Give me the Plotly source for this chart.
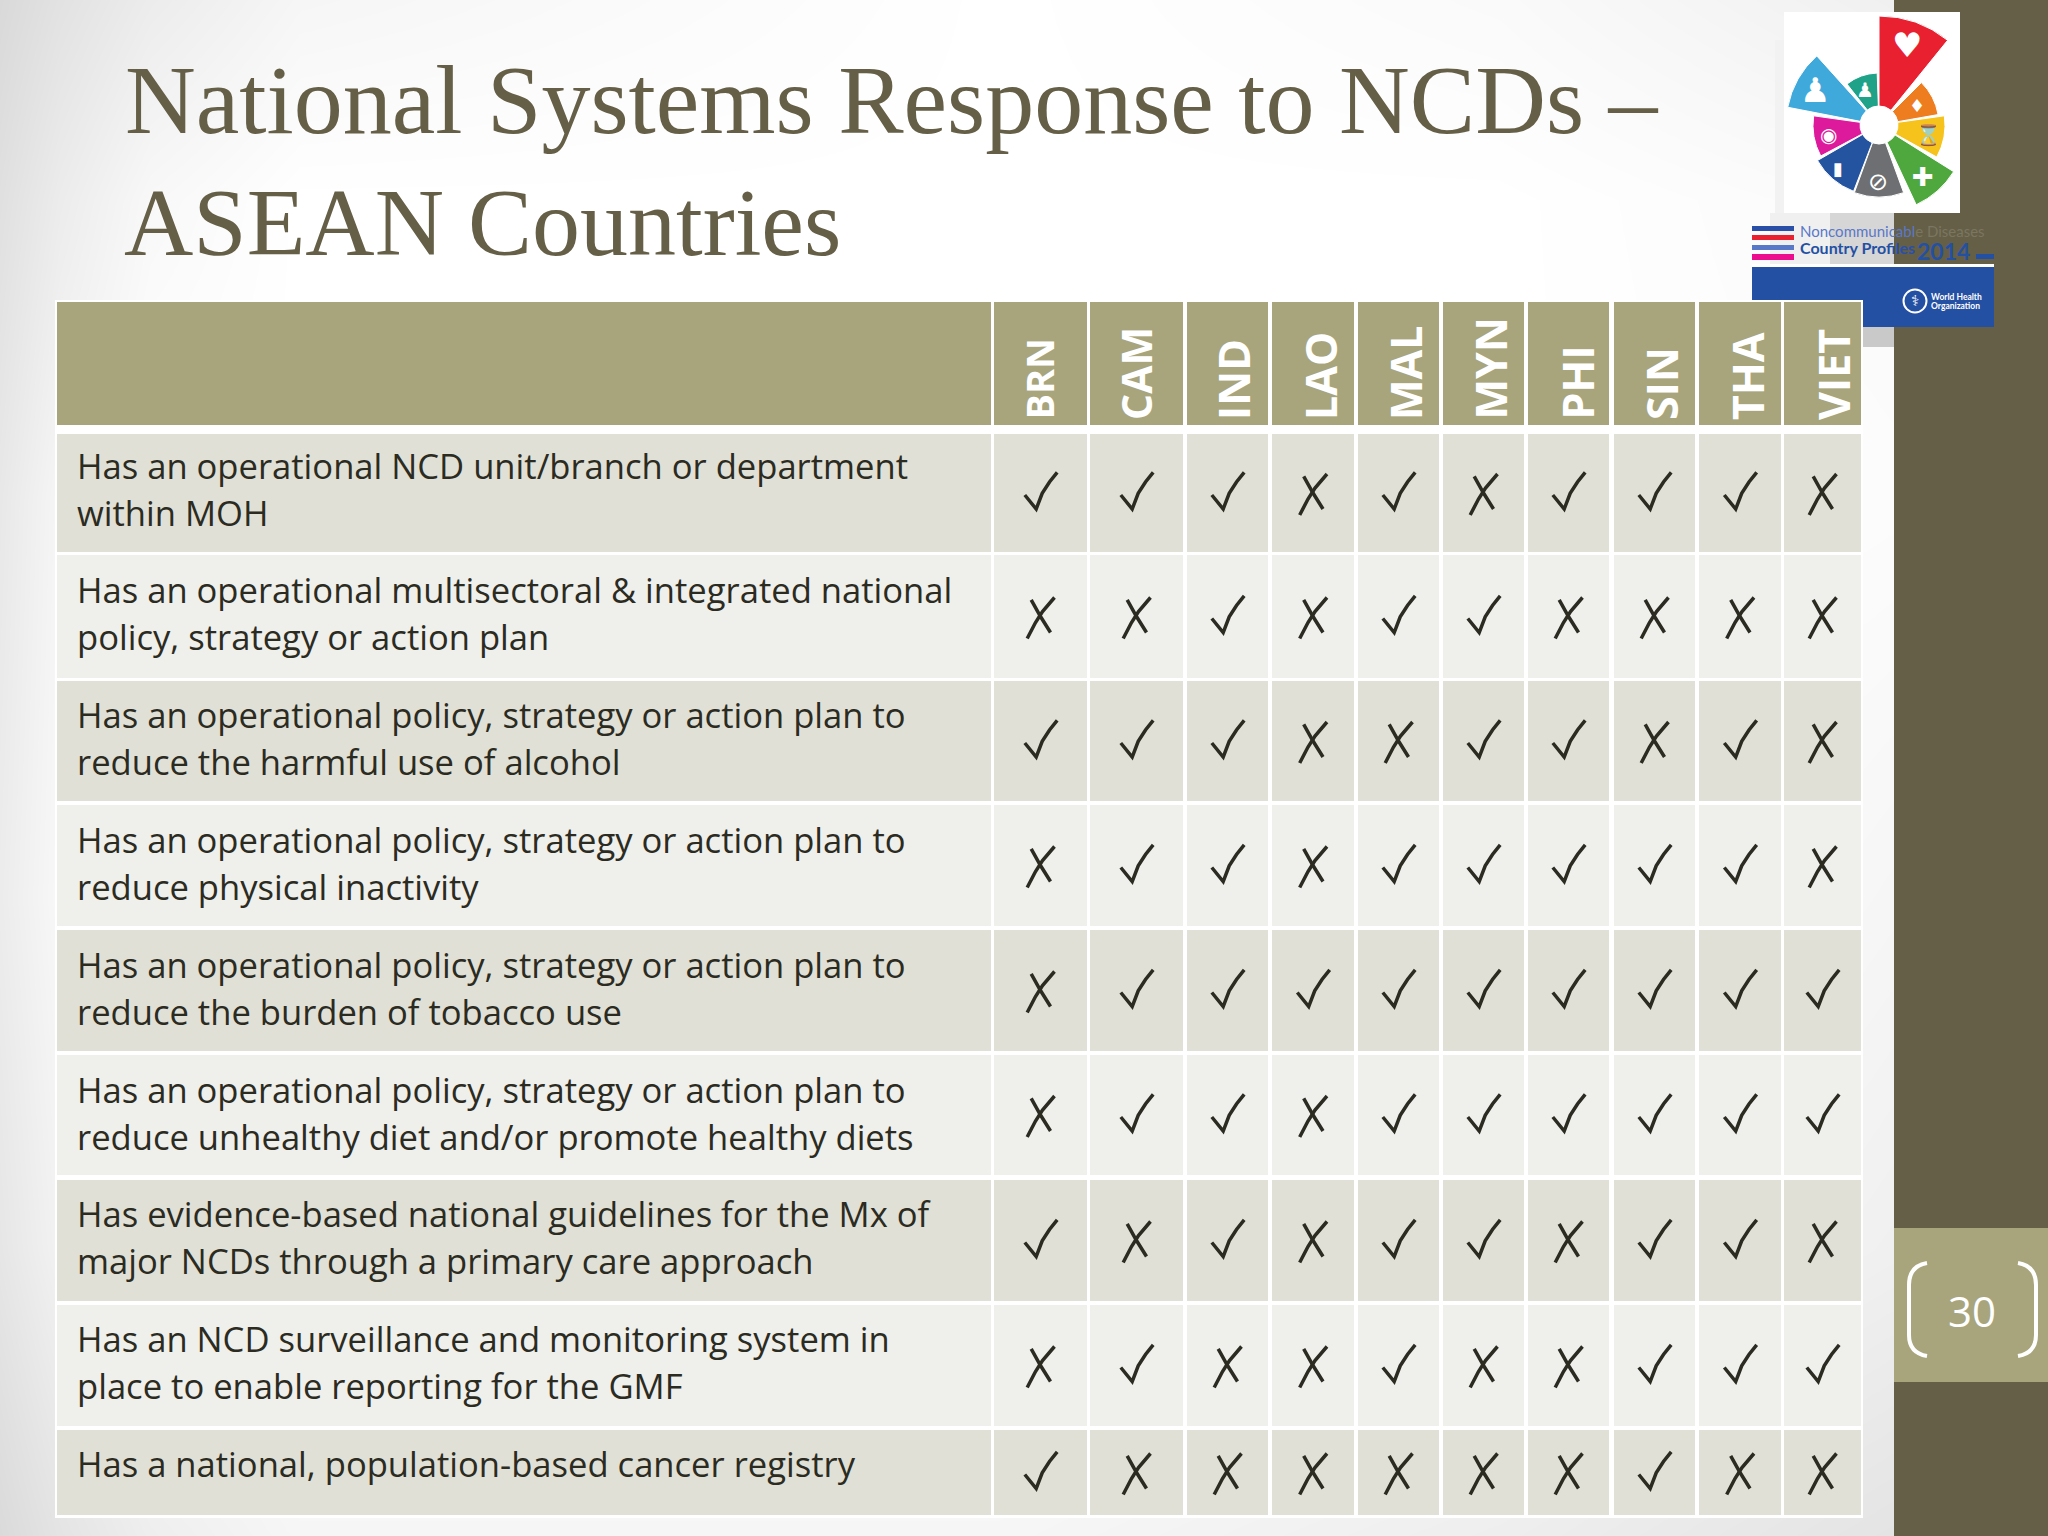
import plotly.graph_objects as go

# table content
countries = ['BRN', 'CAM', 'IND', 'LAO', 'MAL', 'MYN', 'PHI', 'SIN', 'THA', 'VIET']
row_labels = [
    ['Has an operational NCD unit/branch or department', 'within MOH'],
    ['Has an operational multisectoral & integrated national', 'policy, strategy or action plan'],
    ['Has an operational policy, strategy or action plan to', 'reduce the harmful use of alcohol'],
    ['Has an operational policy, strategy or action plan to', 'reduce physical inactivity'],
    ['Has an operational policy, strategy or action plan to', 'reduce the burden of tobacco use'],
    ['Has an operational policy, strategy or action plan to', 'reduce unhealthy diet and/or promote healthy diets'],
    ['Has evidence-based national guidelines for the Mx of', 'major NCDs through a primary care approach'],
    ['Has an NCD surveillance and monitoring system in', 'place to enable reporting for the GMF'],
    ['Has a national, population-based cancer registry'],
]
# 1 = tick, 0 = cross
status = [
    [1, 1, 1, 0, 1, 0, 1, 1, 1, 0],
    [0, 0, 1, 0, 1, 1, 0, 0, 0, 0],
    [1, 1, 1, 0, 0, 1, 1, 0, 1, 0],
    [0, 1, 1, 0, 1, 1, 1, 1, 1, 0],
    [0, 1, 1, 1, 1, 1, 1, 1, 1, 1],
    [0, 1, 1, 0, 1, 1, 1, 1, 1, 1],
    [1, 0, 1, 0, 1, 1, 0, 1, 1, 0],
    [0, 1, 0, 0, 1, 0, 0, 1, 1, 1],
    [1, 0, 0, 0, 0, 0, 0, 1, 0, 0],
]

# logo wedges, clockwise from north
wedge_theta = [19.5, 62.5, 100.5, 138.5, 180, 220.5, 260, 299.5, 340]
wedge_width = [39, 35, 37, 33, 40, 39, 36, 37, 36]
wedge_radius = [109, 60, 66, 88, 72, 71, 66, 93, 52]
wedge_colors = ['#e8202f', '#ee7d1f', '#f6c21c', '#4fa83d', '#6d6f73', '#24539f', '#dd1a9b', '#3fa9dc', '#1fa288']
wedge_icons = ['♥', '♦', '⌛', '✚', '⊘', '▮', '◉', '♟', '♟']
wedge_icon_pos = [(1907, 45), (1917, 105), (1928, 135), (1923, 177), (1878, 182), (1838, 168), (1828, 135), (1815, 90), (1865, 90)]
wedge_icon_size = [34, 18, 20, 26, 24, 18, 20, 34, 20]

# slide background, grey levels
bg_x = [0, 60, 150, 300, 1000, 1500, 1894]
bg_y = [0, 200, 500, 900, 1250, 1536]
bg_grey = [
    [217, 226, 236, 246, 255, 250, 240],
    [224, 236, 248, 255, 255, 255, 250],
    [232, 246, 255, 255, 255, 255, 252],
    [236, 248, 255, 255, 255, 255, 246],
    [230, 242, 252, 255, 255, 250, 240],
    [218, 228, 238, 246, 246, 238, 228],
]

col_edges = [(57, 991), (994, 1087), (1090, 1183), (1187, 1268), (1272, 1354), (1358, 1439),
             (1443, 1524), (1528, 1609), (1614, 1695), (1699, 1781), (1784, 1861)]
row_edges = [(434, 552), (555, 678), (681, 801), (805, 926), (930, 1051),
             (1055, 1175), (1180, 1301), (1305, 1426), (1430, 1515)]

# header labels sit a little off centre in the source table
header_dx = [-2, -1, 6, 7, 7, 6, 8, 7, 7, 11]
header_size = [38, 41, 43, 43, 43, 43, 43, 43, 43, 43]

# glyph outlines of the two marks, relative to the cell centre
TICK_DX = [-15.7, -10, -4.3, 1.7, 9, 16.7]
TICK_DY = [2, 9, 16, 0.3, -11, -20.7]
CROSS_A_DX = [-9.3, 0, 10]
CROSS_A_DY = [-16.7, 0, 16]
CROSS_B_DX = [14, 2, -5, -13.3]
CROSS_B_DY = [-19, -5, 6, 22]

HEADER = '#a8a57d'
DARK = '#655f47'
ROW_A = '#e0e0d6'
ROW_B = '#efefeb'
INK = '#2b2b22'
BLUE = '#2450a4'


def add_rect(fig, x0, x1, y0, y1, color):
    fig.add_trace(go.Scatter(x=[x0, x1, x1, x0, x0], y=[y0, y0, y1, y1, y0], mode='lines',
                             fill='toself', fillcolor=color, line=dict(width=0),
                             hoverinfo='skip', showlegend=False))


def add_text(fig, x, y, text, size, color, family='Open Sans', anchor='left', **kw):
    fig.add_annotation(x=x, y=y, xref='x', yref='y', text=text, showarrow=False,
                       xanchor=anchor, yanchor=kw.pop('yanchor', 'middle'),
                       font=dict(size=size, color=color, family=family), **kw)


fig = go.Figure()
fig.add_trace(go.Heatmap(x=bg_x + [2048], y=bg_y, z=[r + [r[-1]] for r in bg_grey], zsmooth='best',
                         colorscale=[[0, 'black'], [1, 'white']], zmin=0, zmax=255,
                         showscale=False, hoverinfo='skip'))

# sidebar and page number box
add_rect(fig, 1894, 2048, 0, 1536, DARK)
add_rect(fig, 1894, 2048, 1228, 1382, HEADER)

# grey shadow behind the pasted logos
add_rect(fig, 1775, 1784, 40, 213, '#f2f2f2')
add_rect(fig, 1770, 1830, 213, 264, '#f0f0f0')
add_rect(fig, 1830, 1894, 213, 264, '#d6d6d6')
add_rect(fig, 1861, 1894, 327, 347, '#c9c9c9')

# WHO banner
for y0, y1, c in [(226, 231, '#2a4fa8'), (235, 240, '#e8202f'), (245, 250, '#5a78c8'), (254, 260, '#ec0d8e')]:
    add_rect(fig, 1752, 1794, y0, y1, c)
add_rect(fig, 1752, 1994, 264, 267, '#ffffff')
add_rect(fig, 1752, 1994, 267, 327, BLUE)
add_rect(fig, 1976, 1994, 254, 259, BLUE)
add_rect(fig, 1784, 1960, 12, 213, '#ffffff')

# table
add_rect(fig, 55, 1863, 300, 1518, '#ffffff')
for x0, x1 in col_edges:
    add_rect(fig, x0, x1, 302, 425, HEADER)
    for i, (y0, y1) in enumerate(row_edges):
        add_rect(fig, x0, x1, y0, y1, ROW_A if i % 2 == 0 else ROW_B)

# ticks and crosses
tick_x, tick_y, cross_x, cross_y = [], [], [], []
for i, (y0, y1) in enumerate(row_edges):
    for j, (x0, x1) in enumerate(col_edges[1:]):
        cx, cy = (x0 + x1) / 2, (y0 + y1) / 2
        if status[i][j]:
            tick_x += [cx + d for d in TICK_DX] + [None]
            tick_y += [cy + d for d in TICK_DY] + [None]
        else:
            cross_x += [cx + d for d in CROSS_A_DX] + [None] + [cx + d for d in CROSS_B_DX] + [None]
            cross_y += [cy + d for d in CROSS_A_DY] + [None] + [cy + d for d in CROSS_B_DY] + [None]
fig.add_trace(go.Scatter(x=tick_x, y=tick_y, mode='lines', line=dict(color=INK, width=3.5),
                         hoverinfo='skip', showlegend=False))
fig.add_trace(go.Scatter(x=cross_x, y=cross_y, mode='lines', line=dict(color=INK, width=3.5),
                         hoverinfo='skip', showlegend=False))

# WHO emblem ring
fig.add_trace(go.Scatter(x=[1915], y=[301], mode='markers', hoverinfo='skip', showlegend=False,
                         marker=dict(symbol='circle-open', size=23, color='#ffffff', line=dict(width=2, color='#ffffff'))))

# logo wheel
fig.add_trace(go.Barpolar(r=[w - 19 for w in wedge_radius], base=19, theta=wedge_theta, width=wedge_width,
                          marker=dict(color=wedge_colors, line=dict(color='#ffffff', width=1)),
                          hoverinfo='skip', showlegend=False))

for i, lines in enumerate(row_labels):
    for k, line in enumerate(lines):
        add_text(fig, 75, 465 + i * 124.8 + k * 47, line, 34.6, INK)

for (x0, x1), name, dx, size in zip(col_edges[1:], countries, header_dx, header_size):
    add_text(fig, (x0 + x1) / 2 + dx, 422, '<b>' + name + '</b>', size, '#ffffff', anchor='center',
             textangle=-90, yanchor='bottom')

add_text(fig, 123, 100, 'National Systems Response to NCDs –', 98, DARK, family='Liberation Serif')
add_text(fig, 122, 222, 'ASEAN Countries', 96, DARK, family='Liberation Serif')

add_text(fig, 1972, 1310, '30', 42, '#ffffff', anchor='center')

for (x, y), icon, size in zip(wedge_icon_pos, wedge_icons, wedge_icon_size):
    add_text(fig, x, y, icon, size, '#ffffff', family='DejaVu Sans', anchor='center')

add_text(fig, 1798, 231, 'Noncommunicabl<span style="color:#7a7660">e Diseases</span>', 15, '#5a78c8', family='Lato')
add_text(fig, 1798, 247, '<b>Country Profil<span style="color:#2a4fa8">es</span></b>', 16, BLUE, family='Lato')
add_text(fig, 1915, 251, '<b>2014</b>', 23, BLUE, family='Lato')
add_text(fig, 1915, 301, '⚕', 15, '#ffffff', family='DejaVu Sans', anchor='center')
add_text(fig, 1929, 297, '<b>World Health</b>', 8.5, '#ffffff', family='Lato')
add_text(fig, 1929, 306, '<b>Organization</b>', 8.5, '#ffffff', family='Lato')

# page number brackets
for path in ['M 1927 1263 Q 1909 1266 1909 1285 L 1909 1335 Q 1909 1353 1927 1356',
             'M 2018 1263 Q 2036 1266 2036 1285 L 2036 1335 Q 2036 1353 2018 1356']:
    fig.add_shape(type='path', path=path, xref='x', yref='y', line=dict(color='#ffffff', width=4))

fig.update_layout(
    width=2048, height=1536, margin=dict(l=0, r=0, t=0, b=0),
    paper_bgcolor='#ffffff', plot_bgcolor='#ffffff', showlegend=False,
    xaxis=dict(range=[0, 2048], visible=False, fixedrange=True),
    yaxis=dict(range=[1536, 0], visible=False, fixedrange=True),
    polar=dict(domain=dict(x=[1769 / 2048, 1989 / 2048], y=[1 - 235 / 1536, 1 - 15 / 1536]),
               bgcolor='rgba(0,0,0,0)',
               radialaxis=dict(range=[0, 110], visible=False),
               angularaxis=dict(visible=False, direction='clockwise', rotation=90)),
)

fig.write_html("out.html", config=dict(displayModeBar=False),
               post_script="document.body.style.margin='0';")
